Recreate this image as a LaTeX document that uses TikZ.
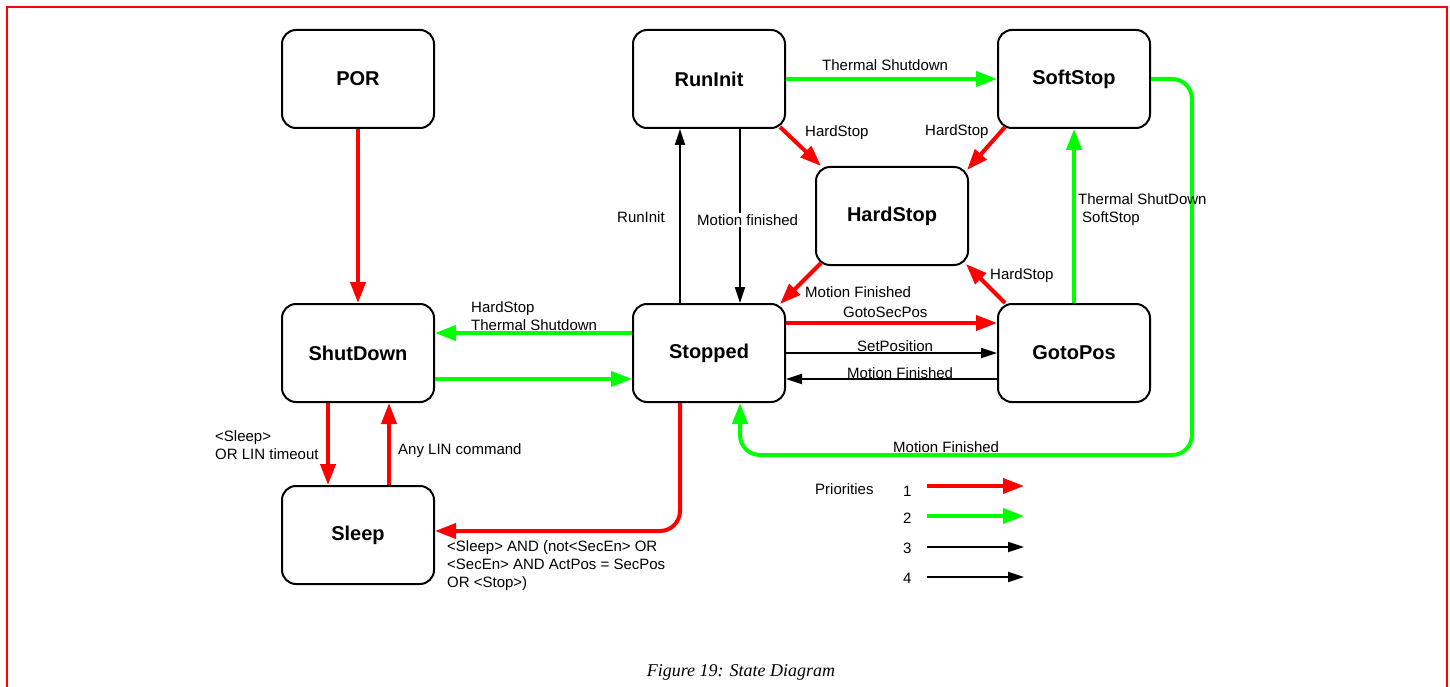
\documentclass[tikz,border=0pt]{standalone}
\usepackage{fontspec}
\setmainfont{Liberation Sans}
\newfontfamily\captionfont{Liberation Serif}
\usepackage{tikz}
\usetikzlibrary{arrows.meta,calc}
\definecolor{prgreen}{RGB}{0,255,0}
\newcommand{\onecolor}{red}
\newcommand{\twocolor}{prgreen}
\newcommand{\fatline}{4pt}
\newcommand{\slimline}{2pt}
\tikzset{
  state/.style={draw, line width=2pt, rounded corners=14pt, minimum width=152pt, minimum height=98pt, font=\fontsize{20}{24}\selectfont\bfseries},
  pone/.style={draw=\onecolor, line width=\fatline, -{Triangle[length=21pt,width=15pt]}},
  ptwo/.style={draw=\twocolor, line width=\fatline, -{Triangle[length=21pt,width=15pt]}},
  pthree/.style={draw=black, line width=\slimline, -{Triangle[length=16pt,width=10pt]}},
  lbl/.style={anchor=west, inner sep=0pt, font=\fontsize{15}{18}\selectfont, align=left}
}

\begin{document}
\begin{tikzpicture}[x=1pt,y=-1pt]
\useasboundingbox (0,0) rectangle (1450,687);
\draw[red, line width=2.5pt] (7,687) -- (7,7) -- (1447,7) -- (1447,687);
%states
\node[state] (POR) at (358,79) {POR};
\node[state] (RunInit) at (709,79) {RunInit};
\node[state] (SoftStop) at (1074,79) {SoftStop};
\node[state] (HardStop) at (892,216) {HardStop};
\node[state] (ShutDown) at (358,353) {ShutDown};
\node[state] (Stopped) at (709,353) {Stopped};
\node[state] (GotoPos) at (1074,353) {GotoPos};
\node[state] (Sleep) at (358,535) {Sleep};
\coordinate (loop) at (1192,455);
%priority 1
\draw[pone] (POR) -- (ShutDown);
\draw[pone] ([xshift=-30]ShutDown.south) -- ([xshift=-30]Sleep.north);
\draw[pone] ([xshift=31]Sleep.north) -- ([xshift=31]ShutDown.south);
\draw[pone, rounded corners=20pt] ([xshift=-29]Stopped.south) |- ([yshift=4]Sleep.east);
\draw[pone] ([xshift=-6,yshift=2]RunInit.south east) -- ([xshift=6]HardStop.north west);
\draw[pone] ([xshift=8,yshift=2]SoftStop.south west) -- ([xshift=-2,yshift=-4]HardStop.north east);
\draw[pone] ([xshift=6,yshift=3]HardStop.south west) -- ([xshift=-6,yshift=-1]Stopped.north east);
\draw[pone] ([xshift=8]GotoPos.north west) -- ([xshift=-3,yshift=2]HardStop.south east);
\draw[pone] ([yshift=30]Stopped.east) -- ([yshift=30]GotoPos.west);
%priority 2
\draw[ptwo] (RunInit) -- (SoftStop);
\draw[ptwo] (GotoPos) -- (SoftStop);
\draw[ptwo] ([yshift=20]Stopped.west) -- ([yshift=20]ShutDown.east);
\draw[ptwo] ([yshift=-26]ShutDown.east) -- ([yshift=-26]Stopped.west);
\draw[ptwo, rounded corners=20pt] (SoftStop.east) -| (loop) -| ([xshift=31]Stopped.south);
%priority 3
\draw[pthree] ([xshift=-29]Stopped.north) -- ([xshift=-29]RunInit.south);
\draw[pthree] ([xshift=31]RunInit.south) -- ([xshift=31]Stopped.north);
\draw[pthree] (Stopped) -- (GotoPos);
\draw[pthree] ([yshift=-26]GotoPos.west) -- ([yshift=-26]Stopped.east);
%labels
\node[lbl] (tTherm) at (822,65) {Thermal Shutdown};
\node[lbl] (tHard1) at (805,133) {HardStop};
\node[lbl] (tHard2) at (925,132) {HardStop};
\node[lbl] (tRun) at (617,217) {RunInit};
\node[lbl, fill=white, inner sep=1pt] (tFin) at (696,220) {Motion finished};
\node[lbl] (tSoft) at (1078,210) {Thermal ShutDown\\\hspace{4pt}SoftStop};
\node[lbl] (tHard3) at (990,276) {HardStop};
\node[lbl] (tFin2) at (805,292) {Motion Finished};
\node[lbl] (tSec) at (843,312) {GotoSecPos};
\node[lbl] (tSet) at (857,346) {SetPosition};
\node[lbl] (tFin3) at (847,373) {Motion Finished};
\node[lbl] (tShut) at (471,316) {HardStop\\Thermal Shutdown};
\node[lbl] (tSleep) at (215,445) {<Sleep>\\OR LIN timeout};
\node[lbl] (tLin) at (398,451) {Any LIN command};
\node[lbl] (tCond) at (447,566) {<Sleep> AND (not<SecEn> OR\\<SecEn> AND ActPos = SecPos\\OR <Stop>)};
\node[lbl] (tFin4) at (893,447) {Motion Finished};
%legend
\node[lbl] (prio) at (815,489) {Priorities};
\foreach \s/\y/\t [count=\i] in {pone/486/491, ptwo/516/518, pthree/547/548, pthree/577/578}{
  \node[lbl] (num\i) at (903,\t) {\i};
  \coordinate (ks\i) at (927,\y);
  \coordinate (ke\i) at (1024,\y);
  \draw[\s] (ks\i) -- (ke\i);
}
\node[font=\captionfont\itshape\fontsize{18}{22}\selectfont] (caption) at (741,672) {Figure 19: State Diagram};
\end{tikzpicture}
\end{document}
